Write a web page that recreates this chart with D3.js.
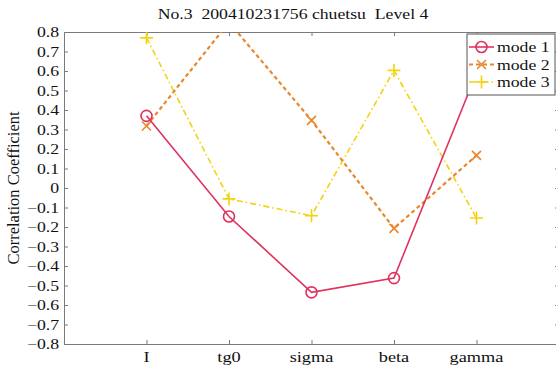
<!DOCTYPE html>
<html>
<head>
<meta charset="utf-8">
<script src="https://cdn.jsdelivr.net/npm/d3@7/dist/d3.min.js"></script>
<style>
  html, body { margin: 0; padding: 0; background: #fff; }
  svg { display: block; }
  text { font-family: "Liberation Serif", "DejaVu Serif", serif; fill: #111; }
</style>
</head>
<body>
<svg id="chart" width="556" height="367"></svg>
<script>
// Correlation coefficients per parameter, three modes
const categories = ["I", "tg0", "sigma", "beta", "gamma"];
const mode1 = [0.37, -0.146, -0.535, -0.462, 0.59];
const mode2 = [0.318, 0.85, 0.347, -0.207, 0.167];
const mode3 = [0.77, -0.056, -0.142, 0.603, -0.154];
const seriesNames = ["mode 1", "mode 2", "mode 3"];
const yTicks = d3.range(-8, 9).map(v => v / 10);
const titleText = "No.3  200410231756 chuetsu  Level 4";

const svg = d3.select("#chart");
const margin = { left: 64, right: 559, top: 32, bottom: 344 };
const SERIF = "'Liberation Serif', 'DejaVu Serif', serif";
const WIDEN = 1.18; // text is set slightly wide

const x = d3.scaleLinear().domain([0, categories.length + 1]).range([margin.left, margin.right]);
const y = d3.scaleLinear().domain([-0.8, 0.8]).range([margin.bottom, margin.top]);

const axisColor = "#7a7a7a";

// helper: widened serif label anchored at (px, py)
function label(parent, px, py, str, size, anchor, dy) {
  return parent.append("text")
    .attr("transform", `translate(${px},${py}) scale(${WIDEN},1)`)
    .attr("font-family", SERIF)
    .attr("font-size", size)
    .attr("text-anchor", anchor)
    .attr("dy", dy || null)
    .attr("xml:space", "preserve")
    .text(str);
}

// Title
label(svg, 293, 19, titleText, 15, "middle");

// Axes drawn as a box with inward ticks
const yLeft = d3.axisRight(y).tickValues(yTicks).tickSize(4).tickFormat("");
const yRight = d3.axisLeft(y).tickValues(yTicks).tickSize(4).tickFormat("");
const xBottom = d3.axisTop(x).tickValues(d3.range(1, categories.length + 1)).tickSize(4).tickFormat("");
const xTop = d3.axisBottom(x).tickValues(d3.range(1, categories.length + 1)).tickSize(4).tickFormat("");

function styleAxis(g) {
  g.selectAll("path,line").attr("stroke", axisColor).attr("stroke-width", 1);
}
svg.append("g").attr("transform", `translate(${margin.left},0)`).call(yLeft).call(styleAxis);
svg.append("g").attr("transform", `translate(${margin.right},0)`).call(yRight).call(styleAxis);
svg.append("g").attr("transform", `translate(0,${margin.bottom})`).call(xBottom).call(styleAxis);
svg.append("g").attr("transform", `translate(0,${margin.top})`).call(xTop).call(styleAxis);

// Y tick labels
const fmt = v => {
  if (Math.abs(v) < 1e-9) return "0";
  const s = Math.abs(v).toFixed(1);
  return (v < 0 ? "\u2212" : "") + s;
};
const yLabels = svg.append("g");
yTicks.forEach(v => label(yLabels, margin.left - 5, y(v), fmt(v), 15, "end", "0.35em"));

// X tick labels
const xLabels = svg.append("g");
categories.forEach((c, i) => label(xLabels, x(i + 1), 362, c, 15.5, "middle"));

// Y axis title
svg.append("text")
  .attr("transform", `translate(19,${y(0)}) rotate(-90)`)
  .attr("text-anchor", "middle")
  .attr("font-family", SERIF)
  .attr("font-size", 16.5)
  .text("Correlation Coefficient");

// Clip data to the axes box
svg.append("defs").append("clipPath").attr("id", "plotClip")
  .append("rect")
  .attr("x", margin.left).attr("y", margin.top)
  .attr("width", margin.right - margin.left)
  .attr("height", margin.bottom - margin.top);

const series = [
  { name: seriesNames[0], values: mode1, color: "#e0325e", width: 1.6, dash: null, marker: "circle" },
  { name: seriesNames[1], values: mode2, color: "#e8882e", width: 2.2, dash: "4,3", marker: "x" },
  { name: seriesNames[2], values: mode3, color: "#f5d20c", width: 1.6, dash: "6,3,1.5,3", marker: "plus" }
];

const line = d3.line().x((d, i) => x(i + 1)).y(d => y(d));
const plot = svg.append("g").attr("clip-path", "url(#plotClip)");

function drawMarker(g, type, cx, cy, color) {
  if (type === "circle") {
    g.append("circle").attr("cx", cx).attr("cy", cy).attr("r", 5.5)
      .attr("fill", "none").attr("stroke", color).attr("stroke-width", 1.6);
  } else if (type === "x") {
    const s = 4.5;
    g.append("path")
      .attr("d", `M${cx - s},${cy - s}L${cx + s},${cy + s}M${cx - s},${cy + s}L${cx + s},${cy - s}`)
      .attr("stroke", color).attr("stroke-width", 1.6).attr("fill", "none");
  } else {
    const s = 6.5;
    g.append("path")
      .attr("d", `M${cx - s},${cy}L${cx + s},${cy}M${cx},${cy - s}L${cx},${cy + s}`)
      .attr("stroke", color).attr("stroke-width", 1.6).attr("fill", "none");
  }
}

// Draw the bottom series first so mode 1 sits on top
[series[2], series[1], series[0]].forEach(s => {
  plot.append("path")
    .datum(s.values)
    .attr("d", line)
    .attr("fill", "none")
    .attr("stroke", s.color)
    .attr("stroke-width", s.width)
    .attr("stroke-dasharray", s.dash);
  s.values.forEach((v, i) => drawMarker(plot, s.marker, x(i + 1), y(v), s.color));
});

// Legend
const legend = svg.append("g");
legend.append("rect")
  .attr("x", 467).attr("y", 34).attr("width", 88).attr("height", 61)
  .attr("fill", "#fff").attr("stroke", "#555").attr("stroke-width", 1);
series.forEach((s, i) => {
  const ly = 47 + i * 17.5;
  legend.append("line")
    .attr("x1", 469).attr("x2", 494).attr("y1", ly).attr("y2", ly)
    .attr("stroke", s.color).attr("stroke-width", s.width)
    .attr("stroke-dasharray", s.dash);
  drawMarker(legend, s.marker, 481.5, ly, s.color);
  label(legend, 497, ly, s.name, 15, "start", "0.35em");
});
</script>
</body>
</html>
